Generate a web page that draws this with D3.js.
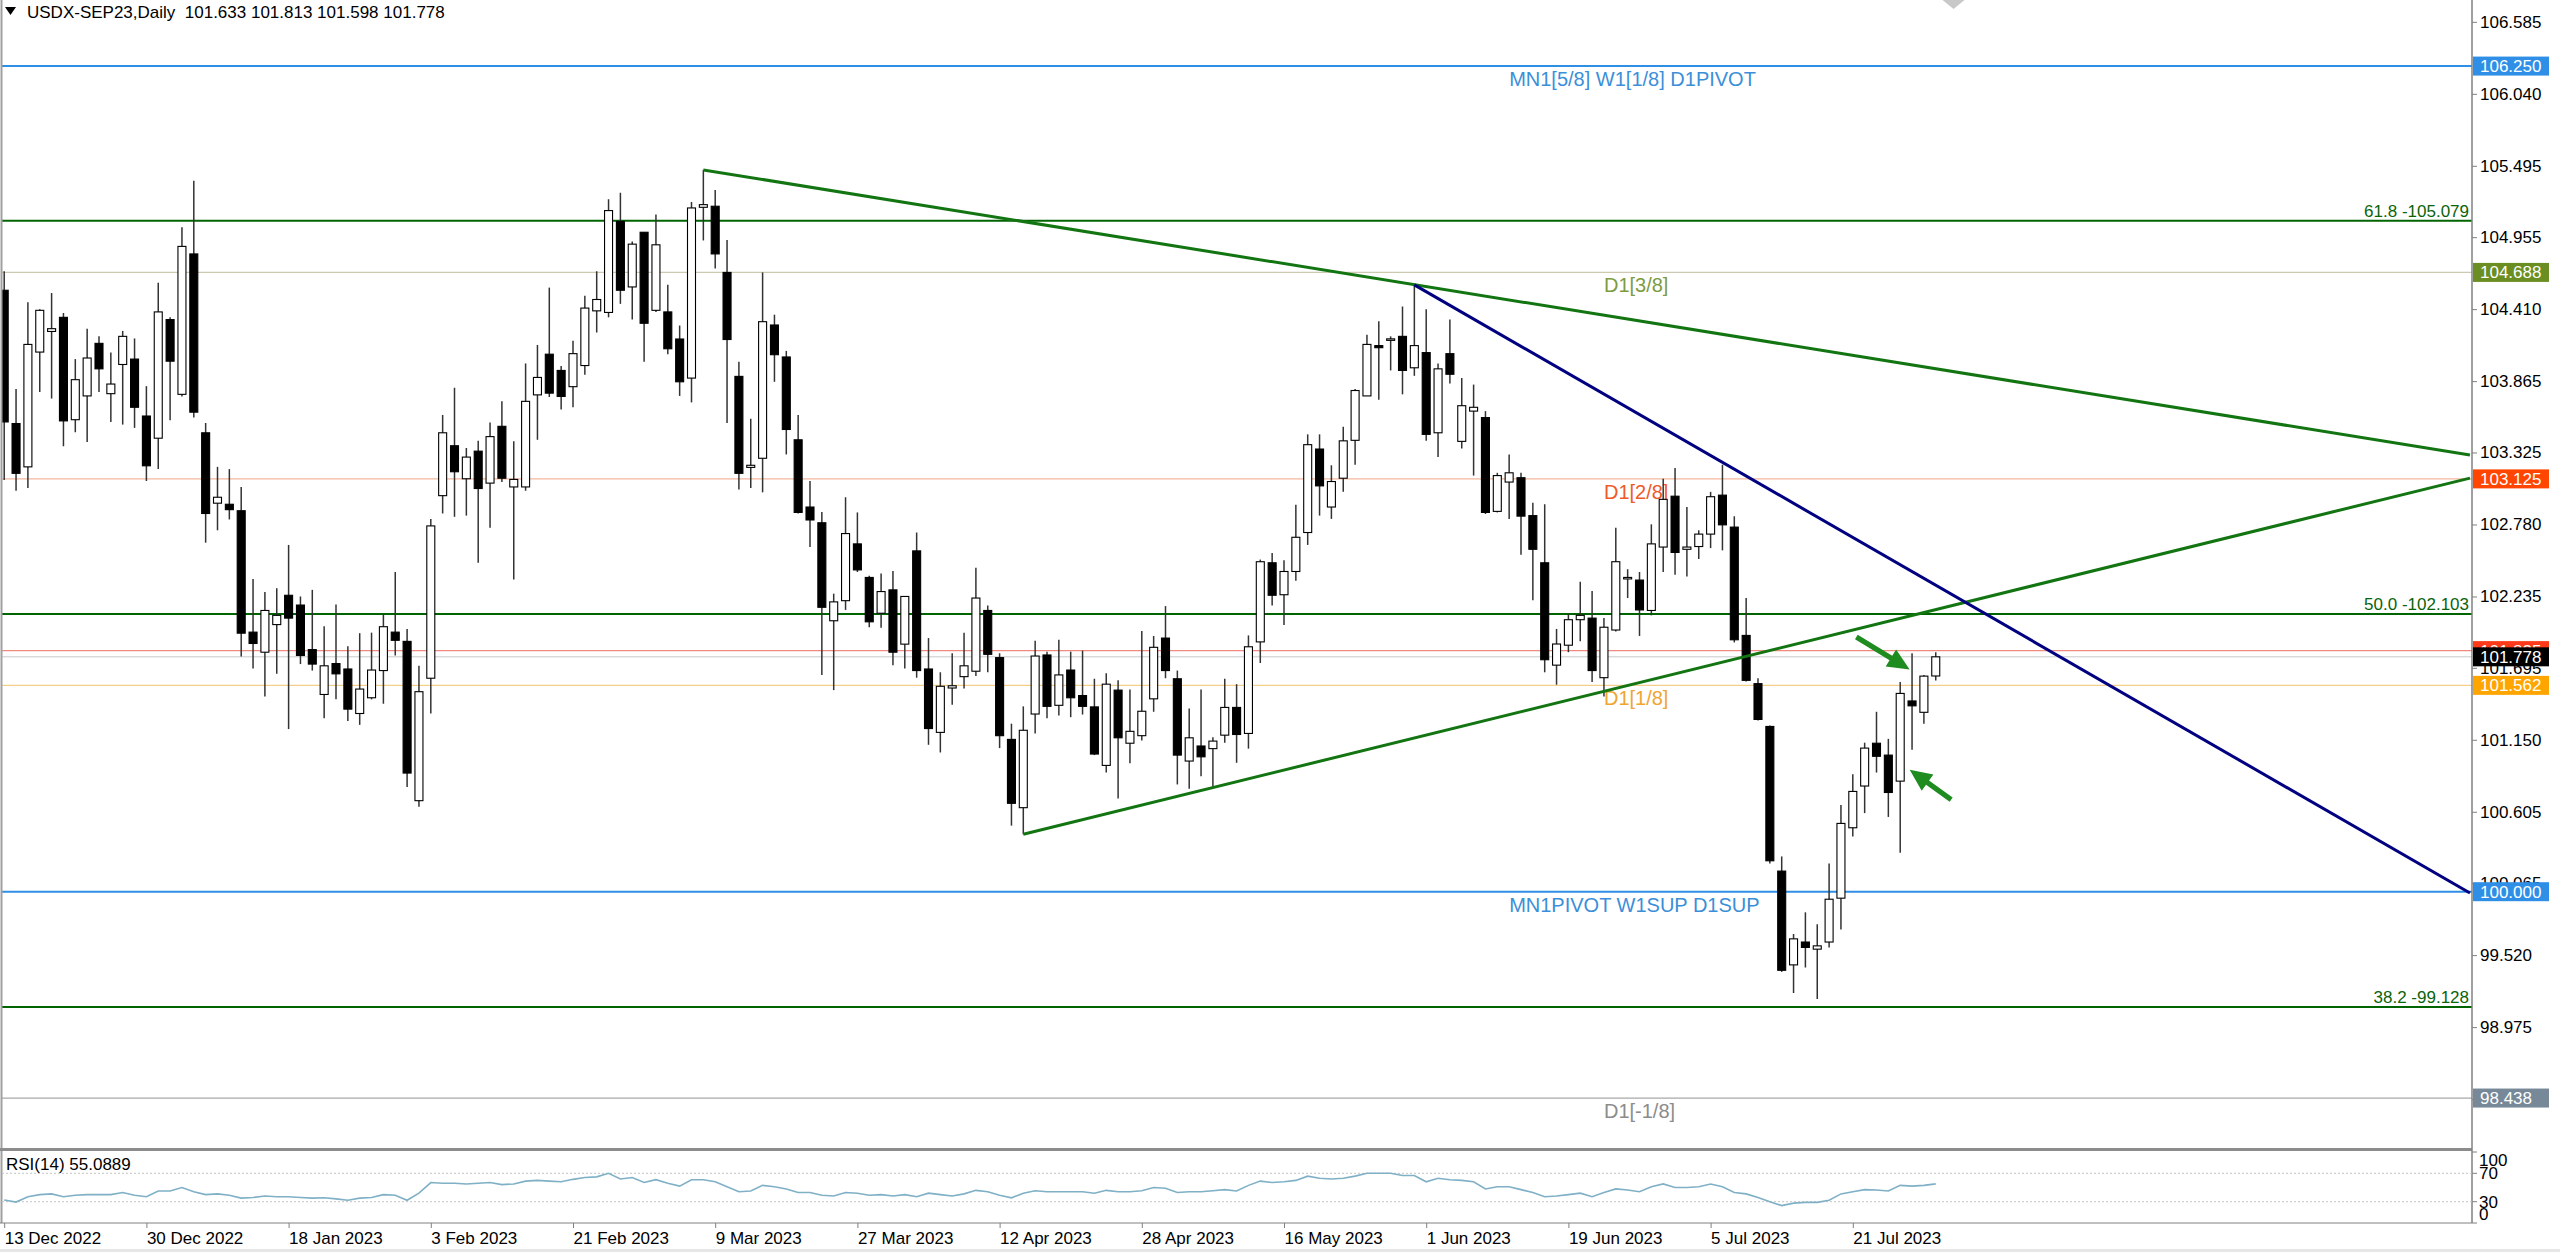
<!DOCTYPE html>
<html><head><meta charset="utf-8">
<script src="https://cdn.jsdelivr.net/npm/d3@7"></script>
<style>
html,body{margin:0;padding:0;background:#fff;overflow:hidden}
svg{display:block;font-family:"Liberation Sans",Arial,sans-serif}
</style></head><body>
<svg id="c" width="2560" height="1252"></svg>
<script>
// ---------------- DATA ----------------
const opens=[104.553,103.544,103.216,104.085,104.241,104.348,103.573,103.753,104.151,103.770,103.991,104.032,103.601,103.433,104.331,103.765,104.828,103.474,102.941,102.933,102.884,101.965,101.813,102.022,102.244,102.170,101.833,101.493,101.727,101.686,101.349,101.468,101.674,101.965,101.895,100.689,101.616,102.998,103.376,103.126,103.335,103.093,103.523,103.064,103.064,103.761,104.069,103.946,103.823,103.983,104.397,104.385,105.074,104.578,104.992,104.401,104.389,104.184,103.888,105.181,105.189,104.688,103.901,103.212,103.281,104.290,104.048,103.421,102.912,102.793,102.051,102.203,102.633,102.379,102.108,102.285,101.874,102.580,101.686,101.206,101.542,101.628,101.669,102.129,101.772,101.153,100.636,101.345,101.792,101.411,101.678,101.485,101.399,100.956,101.526,101.124,101.181,101.460,101.920,101.612,100.989,101.103,101.083,101.185,101.395,101.198,101.891,102.490,102.248,102.424,102.719,103.351,102.912,103.130,103.417,103.753,104.134,104.180,104.204,103.966,104.081,103.474,104.073,103.409,103.638,103.589,102.879,103.101,103.134,102.847,102.490,101.715,101.866,102.059,102.071,101.620,101.981,102.371,102.359,102.129,102.609,102.994,102.592,102.613,102.707,103.002,102.760,101.940,101.575,101.251,100.156,99.446,99.619,99.565,99.619,99.951,100.484,100.800,101.124,101.034,100.837,101.444,101.358,101.633];
const highs=[104.697,103.806,104.463,104.409,104.532,104.381,104.032,104.262,104.204,104.081,104.245,104.188,103.827,104.610,104.348,105.029,105.381,103.548,103.216,103.199,103.064,102.367,102.268,102.297,102.625,102.235,102.285,102.010,102.174,101.858,101.957,101.961,102.100,102.420,101.989,101.710,102.822,103.609,103.815,103.359,103.413,103.552,103.712,103.409,103.999,104.139,104.573,103.979,104.171,104.512,104.697,105.242,105.291,104.922,104.992,105.127,104.594,104.286,105.221,105.464,105.312,104.934,104.012,103.581,104.688,104.368,104.094,103.609,103.109,102.875,102.256,102.986,102.871,102.391,102.408,102.428,102.235,102.719,101.920,101.661,101.805,101.961,102.453,102.166,101.805,101.272,101.403,101.899,101.817,101.907,101.817,101.825,101.612,101.653,101.600,101.530,101.973,101.936,102.162,101.674,101.386,101.530,101.169,101.612,101.571,101.940,102.514,102.564,102.510,102.929,103.462,103.462,103.228,103.519,103.806,104.217,104.319,104.204,104.430,104.594,104.409,103.999,104.331,103.888,103.839,103.638,103.171,103.310,103.171,102.945,102.933,101.989,102.100,102.346,102.276,102.071,102.756,102.441,102.420,102.781,103.126,103.208,102.912,102.736,103.027,103.232,102.842,102.223,101.616,101.259,100.267,99.680,99.844,99.754,100.213,100.656,100.890,101.128,101.362,101.157,101.587,101.805,101.641,101.813];
const lows=[103.117,103.035,103.056,103.782,103.733,103.372,103.478,103.404,103.782,103.556,103.536,103.511,103.109,103.199,103.568,103.749,103.589,102.642,102.736,102.818,101.780,101.690,101.477,101.649,101.231,101.723,101.674,101.313,101.456,101.292,101.263,101.456,101.423,101.788,100.792,100.644,101.349,102.863,102.838,102.847,102.490,102.756,103.101,102.363,103.035,103.421,103.745,103.651,103.667,103.913,104.233,104.348,104.450,104.331,104.011,104.389,104.069,103.753,103.704,104.930,104.717,103.548,103.044,103.056,103.023,103.860,103.310,102.863,102.609,101.641,101.526,102.133,102.420,102.002,101.998,101.715,101.690,101.620,101.112,101.054,101.415,101.538,101.632,101.661,101.087,100.500,100.435,101.198,101.313,101.333,101.321,101.341,101.034,100.902,100.705,100.972,101.144,101.362,101.616,100.812,100.779,100.874,100.792,101.128,100.976,101.083,101.731,102.166,102.018,102.354,102.625,102.847,102.822,103.027,103.232,103.753,103.724,103.946,103.765,103.905,103.413,103.290,103.847,103.355,103.150,102.859,102.871,102.822,102.551,102.207,101.661,101.567,101.813,101.895,101.587,101.477,101.969,102.223,101.936,102.092,102.420,102.400,102.387,102.518,102.601,102.584,101.887,101.591,101.296,100.213,99.393,99.233,99.426,99.188,99.578,99.713,100.418,100.595,100.902,100.566,100.295,101.075,101.272,101.598];
const closes=[103.556,103.167,104.143,104.401,104.262,103.564,103.876,104.040,103.958,103.843,104.204,103.667,103.224,104.389,104.016,104.885,103.630,102.863,102.986,102.892,101.957,101.879,102.129,102.092,102.071,101.788,101.723,101.710,101.649,101.382,101.534,101.678,102.006,101.903,100.898,101.514,102.769,103.474,103.179,103.290,103.052,103.445,103.130,103.121,103.712,103.893,103.774,103.749,104.073,104.418,104.483,105.156,104.553,104.902,104.303,104.897,104.110,103.860,105.176,105.201,104.828,104.180,103.167,103.228,104.315,104.065,103.499,102.871,102.814,102.153,102.194,102.711,102.436,102.043,102.272,101.813,102.235,101.674,101.235,101.555,101.559,101.710,102.223,101.797,101.181,100.669,101.222,101.784,101.403,101.641,101.468,101.403,101.042,101.571,101.165,101.214,101.366,101.850,101.674,101.034,101.165,101.021,101.140,101.395,101.190,101.854,102.498,102.244,102.424,102.683,103.384,103.072,103.105,103.413,103.794,104.143,104.118,104.185,103.946,104.134,103.462,103.958,103.917,103.679,103.667,102.871,103.150,103.171,102.843,102.592,101.756,101.875,102.059,102.092,101.674,102.002,102.498,102.379,102.133,102.633,102.970,102.568,102.609,102.707,102.990,102.777,101.907,101.600,101.304,100.234,99.405,99.643,99.578,99.590,99.943,100.517,100.759,101.087,101.025,100.751,101.501,101.407,101.632,101.778];
const rsiValues=[32.4,29.5,37,40,41,37,39,40,40,40,43,39,37,45,45,50,44,40,41,39,35,36,38,37,37,36,35,35.5,34,32,35,36,40,39,32,42,57,56,56,55,56,57,54,55,59,60,59,58,61.5,64,65,70,62,64,57,61,56,52,61,61,58,51,44,45,53,51,48,43,43,39,38,43,42,39,40,38,40,37,42,40,38,41,46,44,39,35.5,42,45.5,44,44,44,44,42,46,44,44,45.5,50,49,43,44,44,45.5,47,45,53,59,57,58,60,66,63,62,63,66,70,70,70,67,67,58,63,61,60,58,48,51,51,47,43,37,38,40,42,37,43,48,46.5,44,51,55,50,50,51,55,51,43,41,36,30,24.5,28,29,29,32,41,44,47,46.5,45,53,52,53,55.0889];
const dateLabels=["13 Dec 2022","30 Dec 2022","18 Jan 2023","3 Feb 2023","21 Feb 2023","9 Mar 2023","27 Mar 2023","12 Apr 2023","28 Apr 2023","16 May 2023","1 Jun 2023","19 Jun 2023","5 Jul 2023","21 Jul 2023"];
const dateBars=[0,12,24,36,48,60,72,84,96,108,120,132,144,156];
const priceTicks=[106.585,106.040,105.495,104.955,104.410,103.865,103.325,102.780,102.235,101.695,101.150,100.605,100.065,99.520,98.975,98.430];
const rsiTicks=[100,70,30,0];
const titleText="USDX-SEP23,Daily  101.633 101.813 101.598 101.778";
const rsiTitle="RSI(14) 55.0889";
// horizontal levels
const levelNames=["MN1 5/8","fib 61.8","D1 3/8","D1 2/8","fib 50.0","red","bid","D1 1/8","MN1 pivot","fib 38.2","D1 -1/8"];
const levelPrices=[106.250,105.079,104.688,103.125,102.103,101.825,101.778,101.562,100.000,99.128,98.438];
// text labels below level lines: text, price, bar
const levelTexts=["MN1[5/8] W1[1/8] D1PIVOT","D1[3/8]","D1[2/8]","D1[1/8]","MN1PIVOT W1SUP D1SUP","D1[-1/8]"];
const levelTextPrices=[106.250,104.688,103.125,101.562,100.000,98.438];
const levelTextBars=[127,135,135,135,127,135];
const fibTexts=["61.8 -105.079","50.0 -102.103","38.2 -99.128"];
const fibPrices=[105.079,102.103,99.128];
// trend lines [bar, price]
const trendGreenDown=[[59,105.464],[208.08,103.306]];
const trendGreenUp=[[86,100.435],[208.08,103.131]];
const trendNavy=[[119,104.594],[208.08,99.99]];
// arrows [bar, price] tail -> tip
const arrow1=[[156.3,101.928],[160.8,101.682]];
const arrow2=[[164.3,100.697],[160.8,100.923]];
const shiftMarkerBar=164.5;

// ---------------- LAYOUT ----------------
const svg=d3.select('#c');
const AX=2472, MAIN_BOTTOM=1148, RSI_TOP=1152, RSI_BOTTOM=1223;
const x=d3.scaleLinear().domain([0,208]).range([4.2,4.2+11.85*208]);
const y=d3.scaleLinear().domain([98,107]).range([1155.9,-33.0]);
const yr=d3.scaleLinear().domain([0,100]).range([RSI_BOTTOM,RSI_TOP]);

svg.append('rect').attr('width',2560).attr('height',1252).attr('fill','#fff');
const defs=svg.append('defs');
defs.append('clipPath').attr('id','mainClip').append('rect').attr('x',2).attr('y',0).attr('width',AX-2).attr('height',MAIN_BOTTOM);
defs.append('clipPath').attr('id','rsiClip').append('rect').attr('x',2).attr('y',MAIN_BOTTOM+3).attr('width',AX-2).attr('height',RSI_BOTTOM-MAIN_BOTTOM-3);

const main=svg.append('g').attr('clip-path','url(#mainClip)');

// level lines
const levelStyle={
 "MN1 5/8":{c:"#2f8fe6",w:2},"fib 61.8":{c:"#006400",w:2},"D1 3/8":{c:"#cdc8b0",w:1.3},
 "D1 2/8":{c:"#f2b79c",w:1.3},"fib 50.0":{c:"#006400",w:2},"red":{c:"#f08a80",w:1.2},
 "bid":{c:"#c8c8c8",w:1},"D1 1/8":{c:"#f3cf8a",w:1.3},"MN1 pivot":{c:"#2f8fe6",w:2},
 "fib 38.2":{c:"#006400",w:2},"D1 -1/8":{c:"#a8a8a8",w:1.3}};
main.selectAll('line.lvl').data(levelPrices).join('line').attr('class','lvl')
 .attr('x1',2).attr('x2',AX).attr('y1',d=>y(d)).attr('y2',d=>y(d))
 .attr('stroke',(d,i)=>levelStyle[levelNames[i]].c).attr('stroke-width',(d,i)=>levelStyle[levelNames[i]].w);

// level texts
const textColors=["#3b8fd9","#7d9b3f","#f05a28","#f0a530","#3b8fd9","#8c8c8c"];
main.selectAll('text.lt').data(levelTexts).join('text').attr('class','lt')
 .attr('x',(d,i)=>x(levelTextBars[i])).attr('y',(d,i)=>y(levelTextPrices[i])+20)
 .attr('font-size',20).attr('fill',(d,i)=>textColors[i]).text(d=>d);
main.selectAll('text.ft').data(fibTexts).join('text').attr('class','ft')
 .attr('x',AX-3).attr('y',(d,i)=>y(fibPrices[i])-4).attr('text-anchor','end')
 .attr('font-size',17).attr('fill','#0a640a').text(d=>d);

// candles
const bars=opens.map((o,i)=>({i,o,h:highs[i],l:lows[i],c:closes[i]}));
main.selectAll('line.wick').data(bars).join('line').attr('class','wick')
 .attr('x1',d=>x(d.i)).attr('x2',d=>x(d.i)).attr('y1',d=>y(d.h)).attr('y2',d=>y(d.l))
 .attr('stroke','#333').attr('stroke-width',1.5);
main.selectAll('rect.body').data(bars).join('rect').attr('class','body')
 .attr('x',d=>x(d.i)-4).attr('width',8)
 .attr('y',d=>y(Math.max(d.o,d.c)))
 .attr('height',d=>Math.max(1.5,Math.abs(y(d.o)-y(d.c))))
 .attr('fill',d=>d.c>=d.o?'#fff':'#000').attr('stroke','#000').attr('stroke-width',1.1);

// trend lines
const tl=d3.line().x(d=>x(d[0])).y(d=>y(d[1]));
main.append('path').attr('d',tl(trendGreenDown)).attr('stroke','#127512').attr('stroke-width',3).attr('fill','none');
main.append('path').attr('d',tl(trendGreenUp)).attr('stroke','#127512').attr('stroke-width',3).attr('fill','none');
main.append('path').attr('d',tl(trendNavy)).attr('stroke','#000080').attr('stroke-width',3).attr('fill','none');

// arrows
function arrowPts(a){
 const x1=x(a[0][0]),y1=y(a[0][1]),x2=x(a[1][0]),y2=y(a[1][1]);
 const dx=x2-x1,dy=y2-y1,L=Math.hypot(dx,dy),ux=dx/L,uy=dy/L,px=-uy,py=ux;
 const hl=22,hw=10,sw=2.6,bx=x2-ux*hl,by=y2-uy*hl;
 return [[x1+px*sw,y1+py*sw],[bx+px*sw,by+py*sw],[bx+px*hw,by+py*hw],[x2,y2],[bx-px*hw,by-py*hw],[bx-px*sw,by-py*sw],[x1-px*sw,y1-py*sw]];
}
[arrow1,arrow2].forEach(a=>{
 main.append('polygon').attr('points',arrowPts(a).map(p=>p.join(',')).join(' ')).attr('fill','#1f8c1f');
});

// chart shift marker
const sx=x(shiftMarkerBar);
svg.append('polygon').attr('points',`${sx-11},0 ${sx+11},0 ${sx},9`).attr('fill','#c8c8c8');

// title
svg.append('polygon').attr('points','5,7 16,7 10.5,15').attr('fill','#000');
svg.append('text').attr('x',27).attr('y',18).attr('font-size',17).attr('fill','#000').attr('xml:space','preserve').text(titleText);

// panel borders
svg.append('line').attr('x1',1.5).attr('x2',1.5).attr('y1',0).attr('y2',RSI_BOTTOM).attr('stroke','#a0a0a0').attr('stroke-width',2);
svg.append('line').attr('x1',0).attr('x2',AX).attr('y1',MAIN_BOTTOM+1.5).attr('y2',MAIN_BOTTOM+1.5).attr('stroke','#8c8c8c').attr('stroke-width',3);
svg.append('line').attr('x1',0).attr('x2',AX).attr('y1',RSI_BOTTOM).attr('y2',RSI_BOTTOM).attr('stroke','#808080').attr('stroke-width',1);
svg.append('line').attr('x1',AX).attr('x2',AX).attr('y1',0).attr('y2',RSI_BOTTOM).attr('stroke','#808080').attr('stroke-width',1.5);

// price axis
const yAxis=d3.axisRight(y).tickValues(priceTicks).tickSize(5).tickPadding(3).tickFormat(d3.format('.3f'));
const ya=svg.append('g').attr('transform',`translate(${AX},0)`).call(yAxis);
ya.select('.domain').remove();
ya.selectAll('line').attr('stroke','#808080');
ya.selectAll('text').attr('font-size',17).attr('font-family','"Liberation Sans",Arial,sans-serif').attr('fill','#000');

// price boxes
const boxStyle={"MN1 5/8":"#2f8fe6","D1 3/8":"#6b8e23","D1 2/8":"#ff4500","red":"#ff3a1a","bid":"#000","D1 1/8":"#ffa500","MN1 pivot":"#2f8fe6","D1 -1/8":"#778899"};
const boxIdx=levelNames.map((n,i)=>i).filter(i=>boxStyle[levelNames[i]]);
const bx=svg.append('g');
boxIdx.forEach(i=>{
 const yy=y(levelPrices[i]);
 bx.append('rect').attr('x',AX+1).attr('y',yy-9.5).attr('width',76).attr('height',19).attr('fill',boxStyle[levelNames[i]]);
 bx.append('text').attr('x',AX+8).attr('y',yy).attr('dy','0.35em').attr('font-size',17).attr('fill','#fff').text(levelPrices[i].toFixed(3));
});

// RSI panel
const rsiG=svg.append('g').attr('clip-path','url(#rsiClip)');
rsiG.selectAll('line.rl').data([70,30]).join('line').attr('class','rl')
 .attr('x1',2).attr('x2',AX).attr('y1',d=>yr(d)).attr('y2',d=>yr(d))
 .attr('stroke','#c4c4c4').attr('stroke-width',1).attr('stroke-dasharray','2,2');
rsiG.append('path').datum(rsiValues)
 .attr('d',d3.line().x((d,i)=>x(i)).y(d=>yr(d)))
 .attr('fill','none').attr('stroke','#7fb0c6').attr('stroke-width',1.6);
svg.append('text').attr('x',6).attr('y',1170).attr('font-size',17).attr('fill','#000').text(rsiTitle);
const rsiOffset={100:8,70:0,30:0,0:-9};
svg.selectAll('text.rt').data(rsiTicks).join('text').attr('class','rt')
 .attr('x',AX+7).attr('y',d=>yr(d)+rsiOffset[d]).attr('dy','0.35em').attr('font-size',17).attr('fill','#000').text(d=>d);
svg.selectAll('line.rtk').data(rsiTicks).join('line').attr('class','rtk')
 .attr('x1',AX).attr('x2',AX+5).attr('y1',d=>yr(d)).attr('y2',d=>yr(d)).attr('stroke','#808080');

// date axis
const xAxis=d3.axisBottom(x).tickValues(dateBars).tickSize(5).tickPadding(4).tickFormat((d,i)=>dateLabels[i]);
const xa=svg.append('g').attr('transform',`translate(0,${RSI_BOTTOM})`).call(xAxis);
xa.select('.domain').remove();
xa.selectAll('line').attr('stroke','#808080');
xa.selectAll('text').attr('text-anchor','start').attr('font-size',17).attr('font-family','"Liberation Sans",Arial,sans-serif').attr('fill','#000');

svg.append('rect').attr('x',0).attr('y',1249).attr('width',2560).attr('height',3).attr('fill','#e6e6e6');
</script>
</body></html>
